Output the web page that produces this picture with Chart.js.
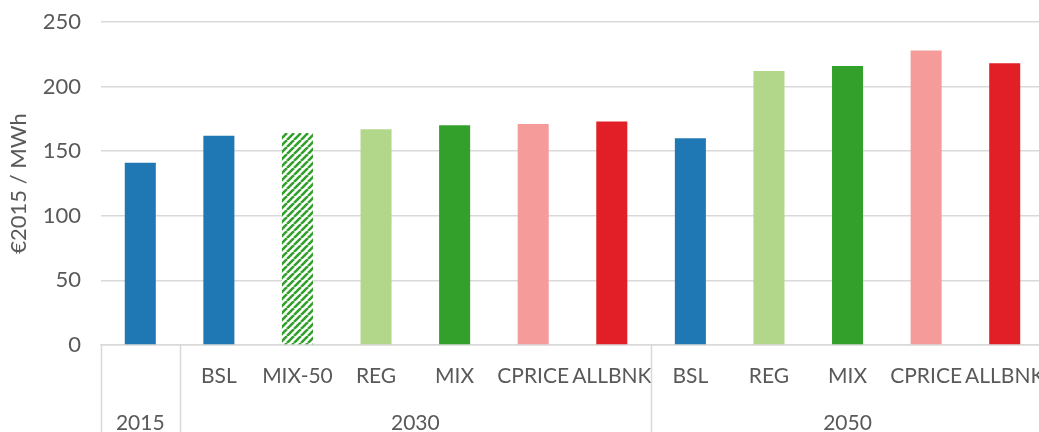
<!DOCTYPE html>
<html>
<head>
<meta charset="utf-8">
<script src="https://cdn.jsdelivr.net/npm/chart.js@4/dist/chart.umd.min.js"></script>
<style>
  html, body { margin: 0; padding: 0; background: #fff; overflow: hidden; }
  #wrap { width: 1039px; height: 432px; overflow: hidden; }
</style>
</head>
<body>
<div id="wrap"><canvas id="chartPrice" width="1044" height="432"></canvas></div>
<script>
const scenarios = ['', 'BSL', 'MIX-50', 'REG', 'MIX', 'CPRICE', 'ALLBNK', 'BSL', 'REG', 'MIX', 'CPRICE', 'ALLBNK'];
const years = ['2015', '2030', '2050'];
const yearSpans = [1, 6, 5];
const prices = [141, 162, 164, 167, 170, 171, 173, 160, 212, 216, 228, 218];
const yTicks = [0, 50, 100, 150, 200, 250];

const BLUE = '#1f78b4';
const LIGHT_GREEN = '#b2d78b';
const GREEN = '#33a02c';
const PINK = '#f59b9a';
const RED = '#e21f26';
const TEXT = '#595959';
const GRID = '#d9d9d9';

function hatch(color) {
  const size = 7;
  const c = document.createElement('canvas');
  c.width = size;
  c.height = size;
  const ctx = c.getContext('2d');
  ctx.fillStyle = '#fff';
  ctx.fillRect(0, 0, size, size);
  ctx.strokeStyle = color;
  ctx.lineWidth = 2.6;
  ctx.beginPath();
  for (let k = -1; k <= 1; k++) {
    ctx.moveTo(k * size, size);
    ctx.lineTo(k * size + size, 0);
  }
  ctx.stroke();
  return ctx.createPattern(c, 'repeat');
}

const barColors = [BLUE, BLUE, hatch(GREEN), LIGHT_GREEN, GREEN, PINK, RED, BLUE, LIGHT_GREEN, GREEN, PINK, RED];

// group labels and separators under the category axis
const groupAxis = {
  id: 'groupAxis',
  afterDraw(chart) {
    const { ctx, scales: { x }, chartArea } = chart;
    const half = (x.getPixelForValue(1) - x.getPixelForValue(0)) / 2;
    const bottom = chart.height;
    ctx.save();
    ctx.strokeStyle = GRID;
    ctx.lineWidth = 1.5;
    ctx.fillStyle = TEXT;
    ctx.font = '21px Lato';
    ctx.textAlign = 'center';
    ctx.textBaseline = 'middle';
    let start = 0;
    years.forEach((year, i) => {
      const end = start + yearSpans[i] - 1;
      const left = x.getPixelForValue(start) - half;
      const right = x.getPixelForValue(end) + half;
      ctx.beginPath();
      ctx.moveTo(Math.round(left) + 0.5, chartArea.bottom);
      ctx.lineTo(Math.round(left) + 0.5, bottom);
      ctx.stroke();
      ctx.fillText(year, (left + right) / 2, 423);
      start = end + 1;
    });
    ctx.restore();
  },
};

new Chart(document.getElementById('chartPrice').getContext('2d'), {
  type: 'bar',
  data: {
    labels: scenarios,
    datasets: [
      {
        label: '€2015 / MWh',
        data: prices,
        backgroundColor: barColors,
        borderWidth: 0,
        barPercentage: 0.395,
        categoryPercentage: 1,
      },
    ],
  },
  options: {
    responsive: false,
    animation: false,
    layout: { padding: { top: 22, left: 0, right: 0, bottom: 0 } },
    scales: {
      x: {
        grid: { display: true, drawOnChartArea: false, drawTicks: false },
        border: { display: true, color: GRID, width: 1.5 },
        ticks: {
          color: TEXT,
          font: { family: 'Lato', size: 21 },
          padding: 19,
          autoSkip: false,
          maxRotation: 0,
        },
        afterFit(scale) {
          scale.height = 87;
          scale.paddingLeft = 0;
          scale.paddingRight = 0;
        },
      },
      y: {
        min: 0,
        max: 250,
        afterBuildTicks(scale) {
          scale.ticks = yTicks.map((value) => ({ value }));
        },
        grid: { color: GRID, lineWidth: 1.5, drawTicks: false },
        border: { display: false },
        ticks: {
          color: TEXT,
          font: { family: 'Lato', size: 22 },
          padding: 20,
        },
        title: {
          display: true,
          text: '€2015 / MWh',
          color: TEXT,
          font: { family: 'Lato', size: 22 },
          padding: { top: 6, bottom: 0 },
        },
        afterFit(scale) {
          scale.width = 101;
          scale.paddingTop = 0;
          scale.paddingBottom = 0;
        },
      },
    },
    plugins: {
      legend: { display: false },
      tooltip: { enabled: false },
    },
  },
  plugins: [groupAxis],
});
</script>
</body>
</html>
